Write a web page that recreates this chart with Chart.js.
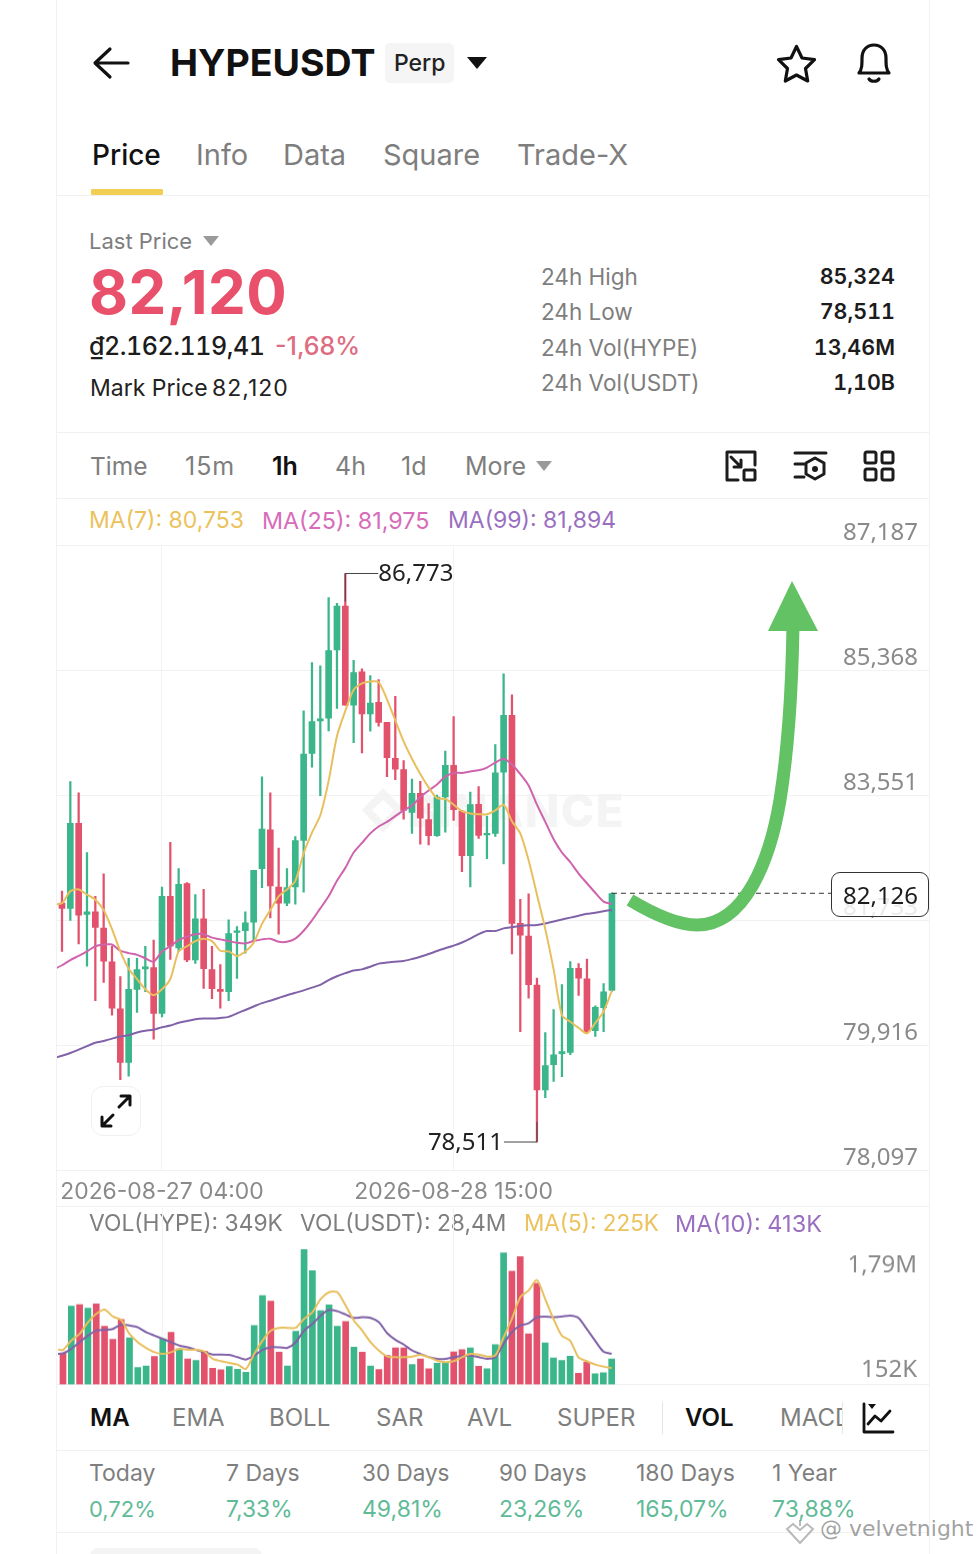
<!DOCTYPE html>
<html>
<head>
<meta charset="utf-8">
<title>HYPEUSDT</title>
<script src="https://cdn.jsdelivr.net/npm/chart.js@4"></script>
<style>
  html, body { margin: 0; padding: 0; background: #fff; }
  body { width: 979px; height: 1554px; position: relative; overflow: hidden; font-family: Inter, "Noto Sans", sans-serif; color: #7e7e7e; }
  .t { position: absolute; white-space: nowrap; line-height: 1; }
  .n { font-feature-settings: 'tnum'; }
  .line { position: absolute; left: 57px; width: 872px; height: 1px; background: #f1f1f1; }
  .side { position: absolute; top: 0; width: 1px; height: 1554px; background: #f1f1f1; }
  .tri { position: absolute; width: 0; height: 0; border-left: 8px solid transparent; border-right: 8px solid transparent; border-top: 10px solid #9a9a9a; }
  canvas { position: absolute; }
  #priceWrap { position: absolute; left: 57px; top: 500px; width: 872px; height: 714px; }
  #volWrap { position: absolute; left: 57px; top: 1207px; width: 872px; height: 177.5px; }
  svg { position: absolute; overflow: visible; }
</style>
</head>
<body>
<div class="side" style="left:56px"></div>
<div class="side" style="left:929px"></div>
<div class="line" style="top:195px"></div>
<div class="line" style="top:432px"></div>
<div class="line" style="top:498px"></div>
<div class="line" style="top:1206px"></div>
<div class="line" style="top:1384px"></div>
<div class="line" style="top:1450px"></div>
<div class="line" style="top:1532px"></div>

<!-- header -->
<svg style="left:0;top:0" width="979" height="200" fill="none" stroke="#111" stroke-width="3.2" stroke-linecap="round" stroke-linejoin="round">
  <path d="M128 63H96M110 49L95 63L110 77"/>
  <path d="M796.5 46.5l5.5 11.5 12.5 1.7-9 8.8 2.2 12.5-11.2-6-11.2 6 2.2-12.5-9-8.8 12.5-1.7z"/>
  <path d="M859 73c3-4 3-8 3-15c0-8 5-13 12-13s12 5 12 13c0 7 0 11 3 15zM869 79c2 3 8 3 10 0"/>
</svg>
<div class="t" style="left:170px;top:44px;font-size:37.5px;font-weight:700;color:#111">HYPEUSDT</div>
<div style="position:absolute;left:385px;top:43px;width:69px;height:40px;background:#f5f5f5;border-radius:5px"></div>
<div class="t" style="left:394px;top:52px;font-size:23px;font-weight:500;color:#222">Perp</div>
<div class="tri" style="left:467px;top:57px;border-left-width:10px;border-right-width:10px;border-top:12px solid #111"></div>
<div class="t" style="left:92px;top:141px;font-size:28px;font-weight:500;color:#111">Price</div>
<div class="t" style="left:196px;top:140px;font-size:29px">Info</div>
<div class="t" style="left:283px;top:140px;font-size:29px">Data</div>
<div class="t" style="left:383px;top:140px;font-size:29px">Square</div>
<div class="t" style="left:517px;top:140px;font-size:29px">Trade-X</div>
<div style="position:absolute;left:91px;top:189px;width:72px;height:6px;background:#f3ce55;border-radius:1px"></div>

<!-- price block -->
<div class="t" style="left:89px;top:230px;font-size:22px">Last Price</div>
<div class="tri" style="left:203px;top:236px"></div>
<div class="t" style="left:89px;top:262px;font-size:60px;font-weight:700;color:#e9506b;letter-spacing:.4px">82,120</div>
<div class="t n" style="left:89px;top:334px;font-size:25px;font-weight:500;color:#1c1c1c;letter-spacing:-.45px">₫2.162.119,41</div>
<div class="t" style="left:275px;top:334px;font-size:25px;font-weight:500;color:#dd6d82">-1,68%</div>
<div class="t" style="left:90px;top:377px;font-size:23px;color:#222">Mark Price</div>
<div class="t" style="left:212px;top:377px;font-size:23px;color:#222;letter-spacing:1px">82,120</div>
<div class="t" style="left:541px;top:266px;font-size:22.5px">24h High</div>
<div class="t" style="left:541px;top:301px;font-size:22.5px">24h Low</div>
<div class="t" style="left:541px;top:337px;font-size:22.5px">24h Vol(HYPE)</div>
<div class="t" style="left:541px;top:372px;font-size:22.5px">24h Vol(USDT)</div>
<div class="t n" style="right:84px;top:266px;font-size:21.5px;font-weight:600;color:#1c1c1c">85,324</div>
<div class="t n" style="right:84px;top:301px;font-size:21.5px;font-weight:600;color:#1c1c1c">78,511</div>
<div class="t n" style="right:84px;top:337px;font-size:21.5px;font-weight:600;color:#1c1c1c">13,46M</div>
<div class="t n" style="right:84px;top:372px;font-size:21.5px;font-weight:600;color:#1c1c1c">1,10B</div>

<!-- interval row -->
<div class="t" style="left:90px;top:454px;font-size:24.5px">Time</div>
<div class="t" style="left:185px;top:454px;font-size:25px;letter-spacing:1px">15m</div>
<div class="t" style="left:272px;top:454px;font-size:25px;font-weight:600;color:#111">1h</div>
<div class="t" style="left:335px;top:454px;font-size:25px">4h</div>
<div class="t" style="left:401px;top:454px;font-size:25px">1d</div>
<div class="t" style="left:465px;top:454px;font-size:25px">More</div>
<div class="tri" style="left:536px;top:461px"></div>
<svg style="left:0;top:440px" width="979" height="55" fill="none" stroke="#1c1c1c" stroke-width="3" stroke-linecap="round" stroke-linejoin="round">
  <path d="M727 40V12h28v13M727 40h11M731 17l10 10M741 20v7h-7"/><rect x="744" y="30" width="11" height="10" rx="1"/>
  <path d="M795 13h31M795 24h9M795 37h9"/><path d="M815 18l9 5v11l-9 5-9-5V23z"/><circle cx="815" cy="29" r="1.5" fill="#1c1c1c"/>
  <rect x="865" y="12" width="11" height="11" rx="2"/><rect x="882" y="12" width="11" height="11" rx="2"/>
  <rect x="865" y="29" width="11" height="11" rx="2"/><rect x="882" y="29" width="11" height="11" rx="2"/>
</svg>

<!-- MA legend -->
<div class="t" style="left:89px;top:509px;font-size:23px;color:#ebc25c">MA(7): 80,753</div>
<div class="t" style="left:262px;top:509px;font-size:23.3px;color:#d76cb9">MA(25): 81,975</div>
<div class="t" style="left:448px;top:509px;font-size:23px;color:#9a6fc0">MA(99): 81,894</div>

<!-- price pane -->
<svg style="left:362px;top:788px" width="44" height="46" fill="#f4f4f4"><path d="M21 0l21 22-21 23L0 22zM21 12L10 22l11 11 11-11z" fill-rule="evenodd"/></svg>
<div class="t" style="left:407px;top:788px;font-size:45px;font-weight:800;color:#f4f4f4;letter-spacing:1.5px">BINANCE</div>
<div id="priceWrap"><canvas id="priceChart"></canvas></div>

<div style="position:absolute;left:831px;top:872px;width:96px;height:43px;background:rgba(255,255,255,.82);border:1.5px solid #333;border-radius:9px"></div>
<div class="t" style="left:843px;top:883px;font-family:'Noto Sans';font-size:24px;color:#1c1c1c">82,126</div>

<svg style="left:0;top:0" width="979" height="1000" fill="none">
  <path d="M630 900C655 915 680 925 697 925C745 925 770 860 780 800C788 750 792 690 793 625" stroke="#62c264" stroke-width="13"/>
  <path d="M792 581L818 631H768Z" fill="#62c264"/>
</svg>

<div style="position:absolute;left:91px;top:1086px;width:48px;height:48px;background:#fff;border:1.5px solid #f0f0f0;border-radius:12px"></div>
<svg style="left:91px;top:1086px" width="50" height="50" fill="none" stroke="#111" stroke-width="3" stroke-linecap="round" stroke-linejoin="round">
  <path d="M28 21L39 10M30 10h9v9M22 29L11 40M11 31v9h9"/>
</svg>

<!-- volume pane -->
<div class="t" style="left:89px;top:1212px;font-size:22.8px">VOL(HYPE): 349K</div>
<div class="t" style="left:300px;top:1212px;font-size:22.8px">VOL(USDT): 28,4M</div>
<div class="t" style="left:524px;top:1212px;font-size:22.5px;color:#ebc25c">MA(5): 225K</div>
<div class="t" style="left:675px;top:1212px;font-size:23.5px;color:#9a6fc0">MA(10): 413K</div>
<div id="volWrap"><canvas id="volChart"></canvas></div>

<!-- indicator tabs -->
<div class="t" style="left:90px;top:1406px;font-size:24px;font-weight:600;color:#111">MA</div>
<div class="t" style="left:172px;top:1406px;font-size:24px">EMA</div>
<div class="t" style="left:269px;top:1406px;font-size:24px">BOLL</div>
<div class="t" style="left:376px;top:1406px;font-size:24px">SAR</div>
<div class="t" style="left:467px;top:1406px;font-size:24px">AVL</div>
<div class="t" style="left:557px;top:1406px;font-size:24px">SUPER</div>
<div style="position:absolute;left:662px;top:1402px;width:1px;height:32px;background:#e6e6e6"></div>
<div class="t" style="left:685px;top:1406px;font-size:24px;font-weight:600;color:#111">VOL</div>
<div style="position:absolute;left:780px;top:1400px;width:62px;height:36px;overflow:hidden"><div class="t" style="left:0;top:6px;font-size:24px">MACD</div></div>
<div style="position:absolute;left:842px;top:1402px;width:1px;height:32px;background:#e6e6e6"></div>
<svg style="left:0;top:1395px" width="979" height="45" fill="none" stroke="#111" stroke-width="2.8" stroke-linecap="round" stroke-linejoin="round">
  <path d="M864 9V37H893M868 29l7-8 6 5 9-10"/><path d="M868 9h8l-4 5z" fill="#111" stroke="none"/>
</svg>

<!-- returns row -->
<div class="t" style="left:89px;top:1462px;font-size:23px">Today</div>
<div class="t" style="left:226px;top:1462px;font-size:23px">7 Days</div>
<div class="t" style="left:362px;top:1462px;font-size:22.5px">30 Days</div>
<div class="t" style="left:499px;top:1462px;font-size:22.5px">90 Days</div>
<div class="t" style="left:636px;top:1462px;font-size:23px">180 Days</div>
<div class="t" style="left:772px;top:1462px;font-size:23px">1 Year</div>
<div class="t" style="left:89px;top:1498px;font-size:22px;color:#5fbb97">0,72%</div>
<div class="t" style="left:226px;top:1498px;font-size:22.8px;color:#5fbb97">7,33%</div>
<div class="t" style="left:362px;top:1498px;font-size:23px;color:#5fbb97">49,81%</div>
<div class="t" style="left:499px;top:1498px;font-size:23px;color:#5fbb97">23,26%</div>
<div class="t" style="left:636px;top:1498px;font-size:23px;color:#5fbb97">165,07%</div>
<div class="t" style="left:772px;top:1498px;font-size:23px;color:#5fbb97">73,88%</div>
<div style="position:absolute;left:90px;top:1548px;width:172px;height:20px;background:#f4f4f4;border-radius:8px"></div>

<div class="t" style="left:820px;top:1518px;font-family:'DejaVu Sans';font-size:22px;color:rgba(120,120,120,.7)">@ velvetnight</div>
<svg style="left:785px;top:1518px" width="30" height="28" fill="none" stroke="rgba(140,140,140,.6)" stroke-width="2">
  <path d="M2 11l6-5 7 6 7-6 6 5-13 14zM15 2v6"/>
</svg>

<script>
// candles
const opens = [81982,81907,83143,81817,81857,81621,81131,80445,79669,80730,81025,81046,80380,82082,81331,82267,81156,81756,81016,80730,80695,81556,81581,81706,82483,83048,82217,81982,82217,82893,84160,84631,84671,85662,86298,84860,85344,84732,84899,84610,84087,83925,83302,83580,83196,82962,83525,83987,83319,82673,83419,82974,82996,83886,84710,81688,81505,80792,79267,79635,79796,79813,81037,80881,80130,80464,80714];
const highs = [82157,83749,83584,82718,82082,82407,81356,80915,81181,81181,81356,81446,82217,82868,82483,82282,82107,82182,81356,81091,81741,81641,81857,82458,83819,83584,82783,82483,82948,84776,85477,85432,86423,86338,86773,85511,85389,85289,85233,84610,84988,84053,83786,83753,83430,83552,84192,84693,83330,83597,83675,83246,84287,85316,85010,82039,82117,80892,80102,80436,80798,81132,81104,81171,80492,80814,82133];
const lows = [81281,81732,81391,81066,80565,80830,80355,79418,79468,80395,80695,80004,80329,81166,81281,81131,81106,80745,80595,80455,80565,80890,81256,81431,82207,81767,81531,81947,81967,82142,83960,83544,84485,84811,84860,84315,84165,84482,84554,83820,83775,83202,82996,82840,82829,82951,83013,83185,82439,82217,82924,82629,82951,82551,81243,80113,80603,78511,79156,79390,79462,79779,80642,80091,80046,80113,80700];
const closes = [81907,83143,81807,81857,81631,81141,80455,79669,80730,81016,81056,80380,82082,81356,82257,81156,81756,81030,80740,80700,81541,81581,81696,82458,83058,82232,81982,82207,82893,84150,84621,84661,85652,86298,84860,85333,84732,84888,84610,84098,83931,83330,83580,83219,82962,83525,83987,83341,82673,83413,82968,82996,83875,84710,81688,81516,80798,79267,79623,79779,79824,81037,80892,80113,80469,80692,82120];

// the MA arrays start one candle earlier, that point lies just off the left edge
const ma7 = [81960,81982,82157,82182,82107,82032,81882,81606,81281,81030,80880,80730,80645,80730,80880,81281,81356,81431,81466,81431,81291,81281,81216,81281,81406,81681,81882,82082,82182,82307,82708,83008,83259,83759,84410,84777,85083,85177,85205,85194,84944,84638,84332,84081,83859,83664,83508,83497,83413,83319,83285,83274,83274,83330,83413,83174,82996,82606,82105,81605,81020,80353,80258,80169,80091,80241,80408,80714];
const ma25 = [81020,81080,81156,81216,81281,81356,81381,81381,81291,81256,81231,81181,81131,81281,81356,81446,81496,81531,81531,81481,81456,81431,81406,81396,81431,81456,81466,81421,81421,81466,81581,81732,81907,82082,82307,82495,82718,82857,82996,83096,83163,83246,83330,83397,83525,83619,83708,83820,83875,83875,83897,83914,83953,84025,84081,83998,83859,83692,83413,83163,82912,82718,82578,82412,82272,82133,82005,81967];
const ma99 = [79729,79764,79804,79854,79904,79954,79979,80014,80044,80064,80104,80129,80144,80179,80204,80244,80269,80295,80305,80305,80315,80330,80380,80430,80480,80530,80565,80605,80645,80680,80715,80755,80795,80865,80920,80965,81005,81020,81059,81104,81120,81132,81143,81171,81204,81243,81287,81327,81365,81410,81466,81532,81577,81577,81616,81632,81649,81660,81666,81688,81716,81744,81772,81800,81827,81844,81866,81883];

// volume in thousands
const volumes = [418,1046,1068,1019,1077,779,605,868,623,227,249,374,610,699,476,343,320,445,218,196,240,205,165,788,1188,1113,432,249,712,1802,1522,988,1064,779,841,498,432,249,200,387,490,490,267,343,209,285,298,436,467,490,245,209,534,1758,1513,1709,676,1353,556,356,320,378,151,298,142,156,343];
const volMa5 = [476,463,587,676,832,943,1001,908,863,676,565,490,432,409,432,476,463,463,441,343,312,289,267,209,409,587,721,757,757,757,877,966,1144,1233,1233,1055,854,721,565,454,374,365,365,374,396,365,320,298,312,365,409,401,374,387,632,877,1166,1255,1397,1144,877,654,587,365,312,267,240,218];
const volMa10 = [405,418,476,565,654,721,730,743,801,788,765,699,654,610,565,521,498,463,432,401,401,396,365,334,387,463,498,498,490,565,721,810,921,997,979,935,890,899,890,832,685,596,534,454,409,365,343,343,365,378,387,365,343,365,543,699,788,819,899,908,899,908,921,890,743,587,441,409];

const priceTicks = [87187,85368,83551,81733,79916,78097];
const timeTickIndex = [12,47];
const timeTickLabels = ['2026-08-27 04:00','2026-08-28 15:00'];
const lastPrice = 82126;
const highPoint = { i: 34, value: 86773, label: '86,773' };
const lowPoint = { i: 57, value: 78511, label: '78,511' };

const GREEN = '#3bb58a', RED = '#e2526c';
const GREY = '#8a8a8a', GRID = '#f2f2f2';
const FONT = 'Inter, "Noto Sans", sans-serif';
const NUM_FONT = '"Noto Sans", sans-serif'; // its digits are tabular, like the source
const isUp = i => closes[i] >= opens[i];
const barColor = ctx => isUp(ctx.dataIndex) ? GREEN : RED;
const xy = (arr, start = 0) => arr.map((v, i) => ({ x: i + start, y: v }));
const maLine = (label, data, color, width) => ({
  type: 'line', label, data: xy(data, -1), borderColor: color, borderWidth: width,
  pointRadius: 0, tension: 0.25, order: 1
});
const fmt = v => v.toLocaleString('en-US');

// x range shared by both panes, so that a candle lands on its volume bar
const xScale = extra => Object.assign({
  type: 'linear', min: -0.6, max: 104.05, offset: false,
  afterBuildTicks: s => { s.ticks = timeTickIndex.map(v => ({ value: v })); },
  afterFit: s => { s.paddingLeft = 0; s.paddingRight = 0; },
  grid: { color: GRID, drawTicks: false, offset: false },
  border: { display: false },
}, extra);

// mirrored y labels: negative padding keeps them inside the pane, zero width lets the grid run to the edge
const insideAxis = {
  position: 'right',
  afterFit: s => { s.width = 0; s.paddingTop = 0; s.paddingBottom = 0; },
  border: { display: false }
};

// leader lines for the visible high / low and the last price line
const pricePlugin = {
  id: 'priceMarks',
  afterDatasetsDraw(chart) {
    const { ctx, scales: { x, y } } = chart;
    ctx.save();
    ctx.strokeStyle = '#444'; ctx.lineWidth = 1; ctx.fillStyle = '#222';
    ctx.font = '24px ' + NUM_FONT; ctx.textBaseline = 'middle';

    let px = x.getPixelForValue(highPoint.i), py = y.getPixelForValue(highPoint.value);
    ctx.beginPath(); ctx.moveTo(px, py + 28); ctx.lineTo(px, py); ctx.lineTo(px + 33, py); ctx.stroke();
    ctx.textAlign = 'left'; ctx.fillText(highPoint.label, px + 33, py + 1);

    px = x.getPixelForValue(lowPoint.i); py = y.getPixelForValue(lowPoint.value);
    ctx.beginPath(); ctx.moveTo(px, py - 20); ctx.lineTo(px, py); ctx.lineTo(px - 33, py); ctx.stroke();
    ctx.textAlign = 'right'; ctx.fillText(lowPoint.label, px - 34, py + 1);

    px = x.getPixelForValue(66); py = y.getPixelForValue(lastPrice);
    ctx.setLineDash([5, 4]); ctx.strokeStyle = '#333';
    ctx.beginPath(); ctx.moveTo(px, py); ctx.lineTo(x.right - 98, py); ctx.stroke();
    ctx.restore();
  }
};

new Chart(document.getElementById('priceChart'), {
  data: {
    datasets: [
      maLine('MA(7)', ma7, '#e9bf5e', 2),
      maLine('MA(25)', ma25, '#cf63ad', 2),
      maLine('MA(99)', ma99, '#8062a8', 2),
      { type: 'bar', label: 'body', order: 2, grouped: false, barThickness: 6, backgroundColor: barColor,
        data: opens.map((o, i) => ({ x: i, y: [Math.min(o, closes[i]), Math.max(o, closes[i])] })) },
      { type: 'bar', label: 'wick', order: 3, grouped: false, barThickness: 1.6, backgroundColor: barColor,
        data: lows.map((l, i) => ({ x: i, y: [l, highs[i]] })) }
    ]
  },
  options: {
    responsive: true, maintainAspectRatio: false, animation: false,
    layout: { padding: { top: 45 } },
    plugins: { legend: { display: false }, tooltip: { enabled: false } },
    scales: {
      x: xScale({
        ticks: {
          autoSkip: false, maxRotation: 0, padding: 8, color: GREY,
          font: { family: FONT, size: 22.9 },
          callback: v => timeTickLabels[timeTickIndex.indexOf(v)]
        }
      }),
      y: Object.assign({}, insideAxis, {
        min: 78097, max: 87187,
        afterBuildTicks: s => { s.ticks = priceTicks.map(v => ({ value: v })); },
        grid: { color: GRID, drawTicks: false },
        ticks: {
          mirror: true, padding: -11, labelOffset: -12, color: GREY, z: 1,
          font: { family: NUM_FONT, size: 24 }, callback: fmt
        }
      })
    }
  },
  plugins: [pricePlugin]
});

// each label sits at its own distance from its level, so each gets an axis
const volTickAxis = (value, label, labelOffset) => Object.assign({}, insideAxis, {
  min: 0, max: 2358,
  afterBuildTicks: s => { s.ticks = [{ value }]; },
  grid: { display: false, drawTicks: false },
  ticks: { mirror: true, padding: -11, labelOffset, color: GREY, z: 1, font: { family: NUM_FONT, size: 24 }, callback: () => label }
});

new Chart(document.getElementById('volChart'), {
  data: {
    datasets: [
      maLine('MA(5)', volMa5, '#e9bf5e', 2),
      maLine('MA(10)', volMa10, '#8062a8', 2),
      { type: 'bar', label: 'volume', order: 2, barThickness: 6, backgroundColor: barColor, data: xy(volumes) }
    ]
  },
  options: {
    responsive: true, maintainAspectRatio: false, animation: false,
    plugins: { legend: { display: false }, tooltip: { enabled: false } },
    scales: {
      x: xScale({ ticks: { display: false } }),
      y: volTickAxis(1790, '1,79M', 15),
      y2: volTickAxis(152, '152K', -3)
    }
  }
});
</script>
</body>
</html>
